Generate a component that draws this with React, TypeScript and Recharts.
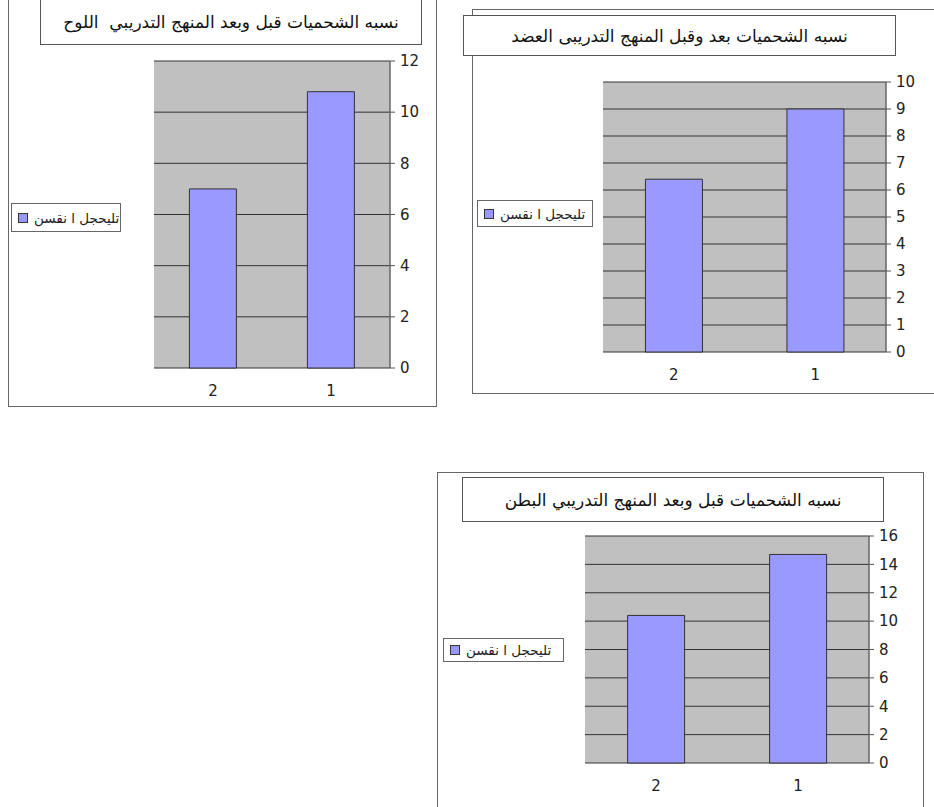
import { Bar, BarChart, CartesianGrid, XAxis, YAxis } from 'recharts';

const CATEGORIES = ['1', '2'];
const SERIES_NAME = 'تليحجل ا نقسن';

const LOH_TITLE = 'نسبه الشحميات قبل وبعد المنهج التدريبي  اللوح';
const LOH_VALUES = [10.8, 7.0];
const LOH_TICKS = [0, 2, 4, 6, 8, 10, 12];

const ARM_TITLE = 'نسبه الشحميات بعد وقبل المنهج التدريبى العضد';
const ARM_VALUES = [9.0, 6.4];
const ARM_TICKS = [0, 1, 2, 3, 4, 5, 6, 7, 8, 9, 10];

const BELLY_TITLE = 'نسبه الشحميات قبل وبعد المنهج التدريبي البطن';
const BELLY_VALUES = [14.7, 10.4];
const BELLY_TICKS = [0, 2, 4, 6, 8, 10, 12, 14, 16];

const BOUNDARY_TICKS = [0, 1, 2];

const BAR_FILL = '#9999ff';
const PLOT_FILL = '#c0c0c0';
const ARABIC_FONT = '"DejaVu Sans", "Noto Sans", sans-serif';
const NUM_FONT = '"DejaVu Sans", sans-serif';

type Box = { left: number; top: number; width: number; height: number };

interface ExcelChartProps {
  frame: Box;
  titleBox: Box;
  legendBox: Box;
  plot: Box;
  title: string;
  values: number[];
  ticks: number[];
}

function ExcelChart({ frame, titleBox, legendBox, plot, title, values, ticks }: ExcelChartProps) {
  const rows = CATEGORIES.map((c, i) => ({ cat: c, value: values[i] }));
  const yMax = ticks[ticks.length - 1];
  const padL = 20;
  const padT = 10;
  const axisW = 45;
  const axisH = 35;

  return (
    <>
      <div
        style={{
          position: 'absolute',
          left: frame.left,
          top: frame.top,
          width: frame.width,
          height: frame.height,
          border: '1.5px solid #666',
          boxSizing: 'border-box',
          background: '#fff',
        }}
      />
      <div
        style={{
          position: 'absolute',
          left: titleBox.left,
          top: titleBox.top,
          width: titleBox.width,
          height: titleBox.height,
          border: '1.5px solid #555',
          boxSizing: 'border-box',
          background: '#fff',
          display: 'flex',
          alignItems: 'center',
          justifyContent: 'center',
          fontFamily: ARABIC_FONT,
          fontSize: 17,
          color: '#111',
          direction: 'rtl',
          whiteSpace: 'pre',
        }}
      >
        {title}
      </div>
      <div
        style={{
          position: 'absolute',
          left: legendBox.left,
          top: legendBox.top,
          width: legendBox.width,
          height: legendBox.height,
          border: '1px solid #666',
          boxSizing: 'border-box',
          background: '#fff',
          display: 'flex',
          alignItems: 'center',
          gap: 6,
          paddingLeft: 6,
          fontFamily: ARABIC_FONT,
          fontSize: 13.5,
          color: '#222',
        }}
      >
        <span style={{ width: 8, height: 8, background: BAR_FILL, border: '1px solid #333', display: 'inline-block' }} />
        <span style={{ direction: 'rtl' }}>{SERIES_NAME}</span>
      </div>
      <div style={{ position: 'absolute', left: plot.left - padL, top: plot.top - padT }}>
        <BarChart
          width={padL + plot.width + axisW}
          height={padT + plot.height + axisH}
          data={rows}
          margin={{ top: padT, left: padL, right: 0, bottom: 0 }}
          barCategoryGap="30%"
        >
          <CartesianGrid vertical={false} fill={PLOT_FILL} fillOpacity={1} stroke="#333" yAxisId="y" xAxisId="cat" />
          <XAxis
            xAxisId="edge"
            type="number"
            domain={[0, 2]}
            ticks={BOUNDARY_TICKS}
            height={0}
            tick={false}
            tickSize={5}
            axisLine={{ stroke: '#555', strokeWidth: 1.5 }}
            tickLine={{ stroke: '#555' }}
          />
          <XAxis
            xAxisId="cat"
            dataKey="cat"
            reversed
            height={axisH}
            axisLine={false}
            tickLine={false}
            tickSize={0}
            tickMargin={17}
            tick={{ fill: '#222', fontSize: 15, fontFamily: NUM_FONT }}
          />
          <YAxis
            yAxisId="y"
            orientation="right"
            domain={[0, yMax]}
            ticks={ticks}
            interval={0}
            width={axisW}
            tickSize={5}
            tickMargin={5}
            axisLine={{ stroke: '#666', strokeWidth: 1.5 }}
            tickLine={{ stroke: '#555' }}
            tick={{ fill: '#222', fontSize: 15, fontFamily: NUM_FONT, textAnchor: 'start' }}
          />
          <Bar
            dataKey="value"
            xAxisId="cat"
            yAxisId="y"
            fill={BAR_FILL}
            stroke="#333"
            strokeWidth={1}
            isAnimationActive={false}
          />
        </BarChart>
      </div>
    </>
  );
}

export default function App() {
  return (
    <div style={{ position: 'absolute', left: 0, top: 0, width: 934, height: 807, background: '#fff', overflow: 'hidden' }}>
      <ExcelChart
        frame={{ left: 8, top: -20, width: 429, height: 427 }}
        titleBox={{ left: 40, top: -2, width: 382, height: 47 }}
        legendBox={{ left: 11, top: 203, width: 110, height: 29 }}
        plot={{ left: 154, top: 61, width: 236, height: 307 }}
        title={LOH_TITLE}
        values={LOH_VALUES}
        ticks={LOH_TICKS}
      />
      <ExcelChart
        frame={{ left: 472, top: 9, width: 480, height: 385 }}
        titleBox={{ left: 463, top: 15, width: 433, height: 41 }}
        legendBox={{ left: 477, top: 200, width: 116, height: 27 }}
        plot={{ left: 603, top: 82, width: 283, height: 270 }}
        title={ARM_TITLE}
        values={ARM_VALUES}
        ticks={ARM_TICKS}
      />
      <ExcelChart
        frame={{ left: 437, top: 472, width: 487, height: 360 }}
        titleBox={{ left: 462, top: 477, width: 422, height: 45 }}
        legendBox={{ left: 443, top: 638, width: 121, height: 24 }}
        plot={{ left: 585, top: 536, width: 284, height: 227 }}
        title={BELLY_TITLE}
        values={BELLY_VALUES}
        ticks={BELLY_TICKS}
      />
    </div>
  );
}
